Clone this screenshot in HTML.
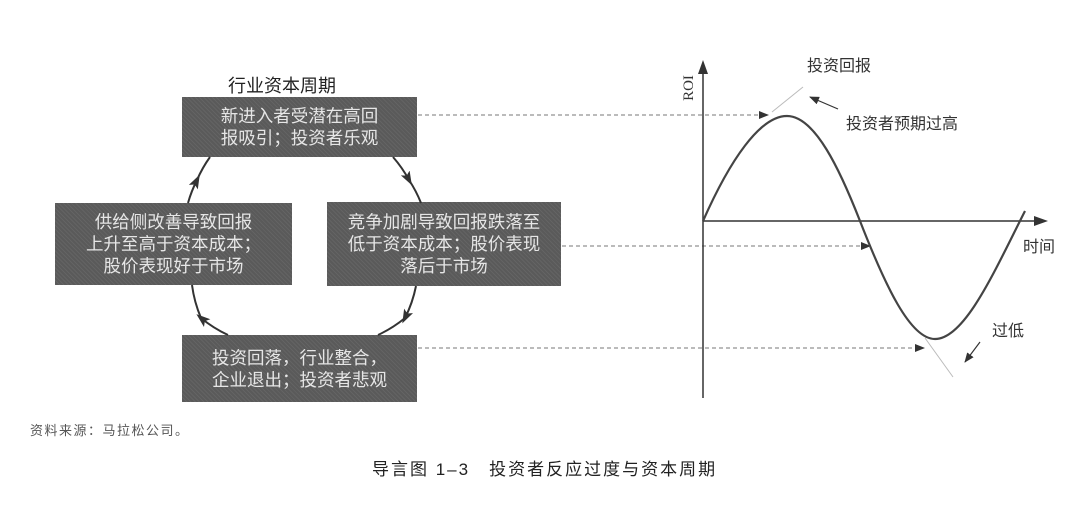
<!DOCTYPE html>
<html><head><meta charset="utf-8"><style>
html,body{margin:0;padding:0;background:#fff;}
body{width:1080px;height:506px;position:relative;overflow:hidden;font-family:"Liberation Sans","Noto Sans CJK SC",sans-serif;}
.box{position:absolute;background:#5a5a5a;color:#e6e6e6;font-size:17.5px;line-height:22px;text-align:center;display:flex;align-items:center;justify-content:center;box-sizing:border-box;
background-image:repeating-linear-gradient(45deg,rgba(255,255,255,0.06) 0 1px,transparent 1px 3px);}
.t{position:absolute;white-space:nowrap;color:#333;}
</style></head><body>
<div class="t" style="left:228px;top:72px;font-size:18px;color:#222;">行业资本周期</div>
<div class="box" style="left:182px;top:97px;width:235px;height:60px;">新进入者受潜在高回<br>报吸引；投资者乐观</div>
<div class="box" style="left:55px;top:203px;width:237px;height:82px;">供给侧改善导致回报<br>上升至高于资本成本；<br>股价表现好于市场</div>
<div class="box" style="left:327px;top:202px;width:234px;height:84px;">竞争加剧导致回报跌落至<br>低于资本成本；股价表现<br>落后于市场</div>
<div class="box" style="left:182px;top:335px;width:235px;height:67px;">投资回落，行业整合，<br>企业退出；投资者悲观</div>

<svg width="1080" height="506" style="position:absolute;left:0;top:0" xmlns="http://www.w3.org/2000/svg">
<defs>
<marker id="a" markerWidth="10" markerHeight="8" refX="9" refY="4" orient="auto" markerUnits="userSpaceOnUse"><path d="M0,0 L10,4 L0,8 Z" fill="#333"/></marker>
<marker id="b" markerWidth="14" markerHeight="10" refX="8" refY="5" orient="auto" markerUnits="userSpaceOnUse"><path d="M0,0 L14,5 L0,10 L3,5 Z" fill="#333"/></marker>
</defs>
<g stroke="#333" stroke-width="2" fill="none">
<path d="M188,203 A125,125 0 0 1 197,180" marker-end="url(#b)"/>
<path d="M197,180 A125,125 0 0 1 210,157"/>
<path d="M393,157 A125,125 0 0 1 409,180" marker-end="url(#b)"/>
<path d="M409,180 A125,125 0 0 1 421,203"/>
<path d="M416,286 A125,125 0 0 1 405,318" marker-end="url(#b)"/>
<path d="M405,318 A125,125 0 0 1 378,335"/>
<path d="M228,335 A125,125 0 0 1 201,318" marker-end="url(#b)"/>
<path d="M201,318 A125,125 0 0 1 192,285"/>
</g>
<g stroke="#777" stroke-width="1" stroke-dasharray="4,3" fill="none">
<line x1="418" y1="115" x2="768" y2="115" marker-end="url(#a)"/>
<line x1="562" y1="246" x2="870" y2="246" marker-end="url(#a)"/>
<line x1="418" y1="348" x2="924" y2="348" marker-end="url(#a)"/>
</g>
<g stroke="#333" stroke-width="1.5" fill="none">
<line x1="703" y1="398" x2="703" y2="66"/>
<line x1="703" y1="221" x2="1043" y2="221"/>
</g>
<path d="M703,60 L698,74 L708,74 Z" fill="#333"/>
<path d="M1048,221 L1034,216 L1034,226 Z" fill="#333"/>
<path d="M703,221 C730,160 760,116 787,116 C815,116 840,170 860,221 C885,285 910,339 935,339 C965,339 995,270 1025,211" stroke="#444" stroke-width="2.2" fill="none"/>
<line x1="772" y1="112" x2="803" y2="87" stroke="#bbb" stroke-width="1"/>
<line x1="925" y1="338" x2="953" y2="377" stroke="#bbb" stroke-width="1"/>
<line x1="838" y1="109" x2="810" y2="97" stroke="#333" stroke-width="1.2" marker-end="url(#a)"/>
<line x1="980" y1="342" x2="965" y2="362" stroke="#333" stroke-width="1.2" marker-end="url(#a)"/>
<text x="693" y="88" transform="rotate(-90 693 88)" text-anchor="middle" font-family="Liberation Serif,serif" font-size="15" fill="#333">ROI</text>
</svg>
<div class="t" style="left:807px;top:52px;font-size:16px;">投资回报</div>
<div class="t" style="left:846px;top:110px;font-size:16px;">投资者预期过高</div>
<div class="t" style="left:1023px;top:233px;font-size:16px;">时间</div>
<div class="t" style="left:992px;top:317px;font-size:16px;">过低</div>
<div class="t" style="left:30px;top:420px;font-size:13px;letter-spacing:1.5px;color:#555;">资料来源：马拉松公司。</div>
<div class="t" style="left:372px;top:455px;font-size:17px;letter-spacing:2px;color:#222;">导言图 1–3　投资者反应过度与资本周期</div>
</body></html>
